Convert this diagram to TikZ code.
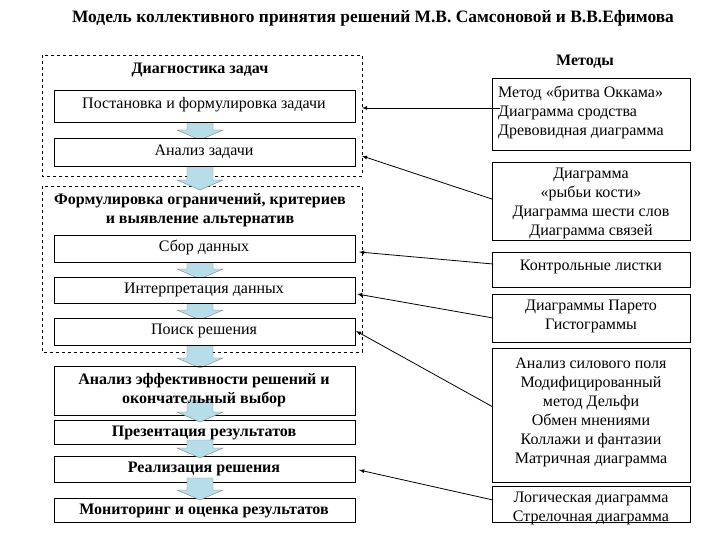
\documentclass[tikz,border=0pt]{standalone}
\usepackage{fontspec}
\setmainfont{Liberation Serif}
\definecolor{arrowblue}{RGB}{183,222,232}
\begin{document}
\begin{tikzpicture}[x=1pt,y=-1pt,font=\fontsize{16}{19}\selectfont,
 box/.style={draw,thick,inner sep=0pt},
 lbl/.style={align=center,inner sep=0pt},
 big/.style={font=\fontsize{16}{19}\selectfont},
 bigb/.style={font=\bfseries\fontsize{16}{19}\selectfont},
 dbox/.style={draw,dashed},
 con/.style={thick,-latex},
 barrow/.style={fill=arrowblue,draw=gray}]
\useasboundingbox (0,0) rectangle (720,540);
\node[lbl,font=\bfseries\fontsize{17.4}{20}\selectfont] (title) at (373,18) {Модель коллективного принятия решений М.В. Самсоновой и В.В.Ефимова};
\newcommand\blk[2]{\draw[barrow] (187,#1) -- (213,#1) -- (213,#2-8) -- (223,#2-8) -- (200,#2+2) -- (177,#2-8) -- (187,#2-8) -- cycle;}
% dashed groups
\draw[dbox] (42,55) rectangle (362,176);
\draw[dbox] (42,186) rectangle (362,352);
\node[lbl,bigb] (g1) at (200,70) {Диагностика задач};
\node[lbl,bigb] (g2) at (200,210) {Формулировка ограничений, критериев\\и выявление альтернатив};
% block arrows
\blk{122}{138}\blk{166}{188}\blk{262}{277}\blk{303}{318}\blk{345}{366}
% left boxes
\draw[box,fill=white] (54,90) rectangle (355,122);
\draw[box,fill=white] (54,138) rectangle (355,166);
\draw[box,fill=white] (54,235) rectangle (355,262);
\draw[box,fill=white] (54,277) rectangle (355,303);
\draw[box,fill=white] (54,318) rectangle (355,345);
\draw[box] (54,366) rectangle (355,415);
\draw[box] (54,420) rectangle (355,444);
\draw[box] (54,456) rectangle (355,482);
\draw[box,fill=white] (54,498) rectangle (355,522);
\blk{400}{420}\blk{440}{456}\blk{478}{498}
\node[lbl,big] (l1) at (204,105) {Постановка и формулировка задачи};
\node[lbl,big] (l2) at (204,152) {Анализ задачи};
\node[lbl,big] (l3) at (204,247) {Сбор данных};
\node[lbl,big] (l4) at (204,290) {Интерпретация данных};
\node[lbl,big] (l5) at (204,331) {Поиск решения};
\node[lbl,bigb] (l6) at (204,390) {Анализ эффективности решений и\\окончательный выбор};
\node[lbl,bigb] (l7) at (204,433) {Презентация результатов};
\node[lbl,bigb] (l8) at (204,469) {Реализация решения};
\node[lbl,bigb] (l9) at (204,511) {Мониторинг и оценка результатов};
% right
\node[lbl,bigb] (m) at (585,62) {Методы};
\draw[box] (492,78) rectangle (690,150);
\draw[box] (492,162) rectangle (690,240);
\draw[box] (492,252) rectangle (690,287);
\draw[box] (492,294) rectangle (690,342);
\draw[box] (492,348) rectangle (690,482);
\draw[box] (492,486) rectangle (690,522);
\node[lbl,big,align=left,anchor=west] (r1) at (498,112) {Метод «бритва Оккама»\\Диаграмма сродства\\Древовидная диаграмма};
\node[lbl,big] (r2) at (591,203) {Диаграмма\\«рыбьи кости»\\Диаграмма шести слов\\Диаграмма связей};
\node[lbl,big] (r3) at (591,267) {Контрольные листки};
\node[lbl,big] (r4) at (591,316) {Диаграммы Парето\\Гистограммы};
\node[lbl,big] (r5) at (591,412) {Анализ силового поля\\Модифицированный\\метод Дельфи\\Обмен мнениями\\Коллажи и фантазии\\Матричная диаграмма};
\node[lbl,big] (r6) at (591,508) {Логическая диаграмма\\Стрелочная диаграмма};
% connectors
\coordinate (e1) at (362,108); \coordinate (s1) at (500,108);
\coordinate (e2) at (362,156); \coordinate (s2) at (492,199);
\coordinate (e3) at (359,252); \coordinate (s3) at (493,264);
\coordinate (e4) at (357,294); \coordinate (s4) at (493,318);
\coordinate (e5) at (356,331); \coordinate (s5) at (493,407);
\coordinate (e6) at (359,470); \coordinate (s6) at (493,500);
\foreach \i in {1,...,6} \draw[con] (s\i) -- (e\i);
\end{tikzpicture}
\end{document}
